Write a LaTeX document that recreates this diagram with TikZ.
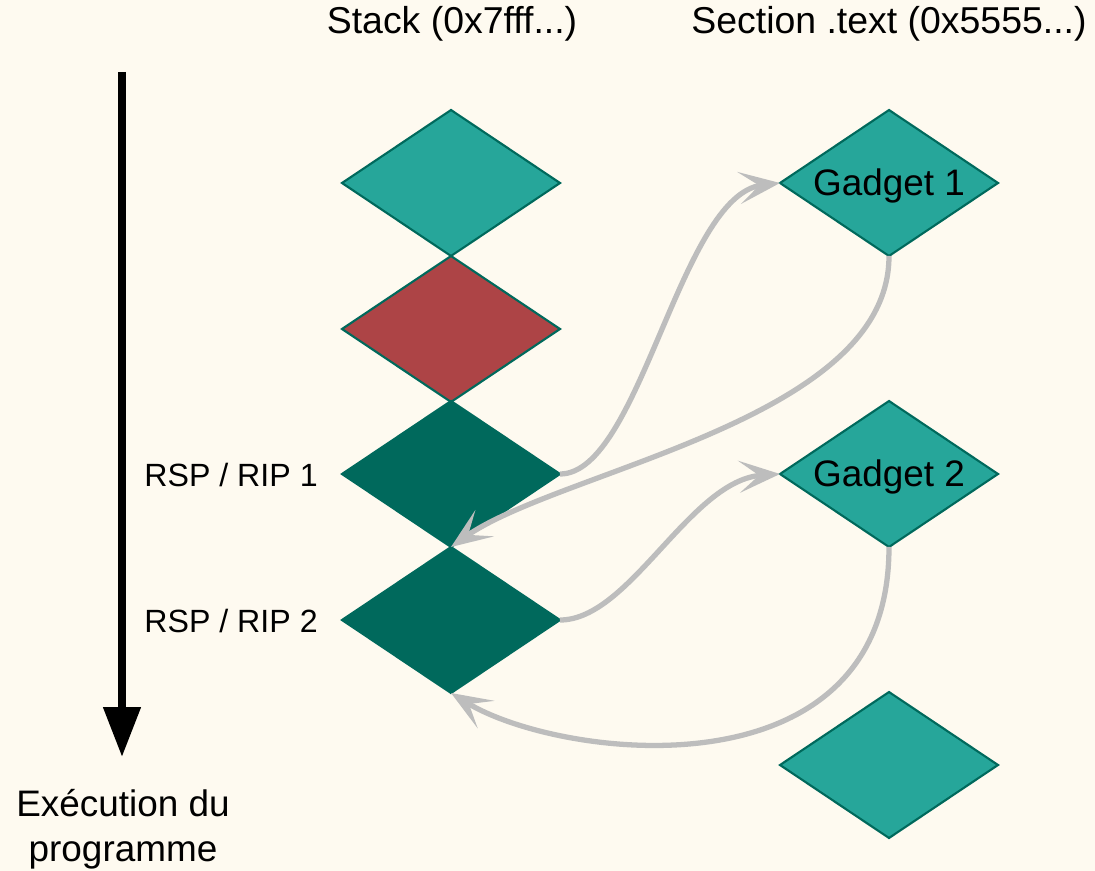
\documentclass[tikz,border=0pt]{standalone}
\usepackage{fontspec}
\setmainfont{Liberation Sans}
\usetikzlibrary{shapes.geometric,arrows.meta}
\definecolor{bg}{HTML}{FEFAF0}
\definecolor{teal1}{HTML}{26A69A}
\definecolor{dark1}{HTML}{00695C}
\definecolor{red1}{HTML}{AD4446}
\definecolor{gray1}{HTML}{BDBDBD}
\tikzset{
  dia/.style={diamond, minimum width=4.36cm, minimum height=2.92cm, inner sep=0pt, outer sep=0pt, line width=1.2pt},
  lightdia/.style={dia, fill=teal1, draw=dark1},
  reddia/.style={dia, fill=red1, draw=dark1},
  darkdia/.style={dia, fill=dark1, draw=dark1},
  gtext/.style={label={[font=\fontsize{21pt}{25pt}\selectfont, text=black, inner sep=0pt, yshift=-0.05cm]center:#1}},
  conn/.style={draw=gray1, line width=3pt, -{Stealth[length=0.82cm,width=0.64cm,inset=0.4cm]}},
  title/.style={font=\fontsize{21.3pt}{25pt}\selectfont, inner sep=0pt},
  side/.style={font=\fontsize{18.3pt}{22pt}\selectfont, inner sep=0pt},
}
\begin{document}
\begin{tikzpicture}[x=0.02cm,y=-0.02cm]
\fill[bg] (0,0) rectangle (1095,871);
\useasboundingbox (0,0) rectangle (1095,871);
% titles
\node[title] (t1) at (452,24) {Stack (0x7fff...)};
\node[title] (t2) at (889,24) {Section .text (0x5555...)};
% stack diamonds
\node[lightdia] (d1) at (451,183) {};
\node[reddia] (d2) at (451,329) {};
\node[darkdia] (d3) at (451,474) {};
\node[darkdia] (d4) at (451,620) {};
% gadgets
\node[lightdia, gtext={Gadget 1}] (g1) at (889,183) {};
\node[lightdia, gtext={Gadget 2}] (g2) at (889,474) {};
\node[lightdia] (g3) at (889,765) {};
% side labels
\node[side] (l1) at (231,475) {RSP / RIP 1};
\node[side] (l2) at (231,621) {RSP / RIP 2};
% execution arrow
\coordinate (a0) at (122,72);
\coordinate (a1) at (122,757);
\draw[line width=4.5pt, -{Triangle[length=1.0cm,width=0.72cm]}] (a0) -- (a1);
\node[font=\fontsize{21pt}{25.5pt}\selectfont, inner sep=0pt, align=center] (ex) at (123,829) {Exécution du\\programme};
% connectors
\draw[conn] (d3.east) .. controls (640,474) and (680,195) .. (g1.west);
\draw[conn] (g1.south) .. controls (889,420) and (560,470) .. (d3.south);
\draw[conn] (d4.east) .. controls (630,620) and (690,480) .. (g2.west);
\draw[conn] (g2.south) .. controls (889,800) and (560,760) .. (d4.south);
\end{tikzpicture}
\end{document}
